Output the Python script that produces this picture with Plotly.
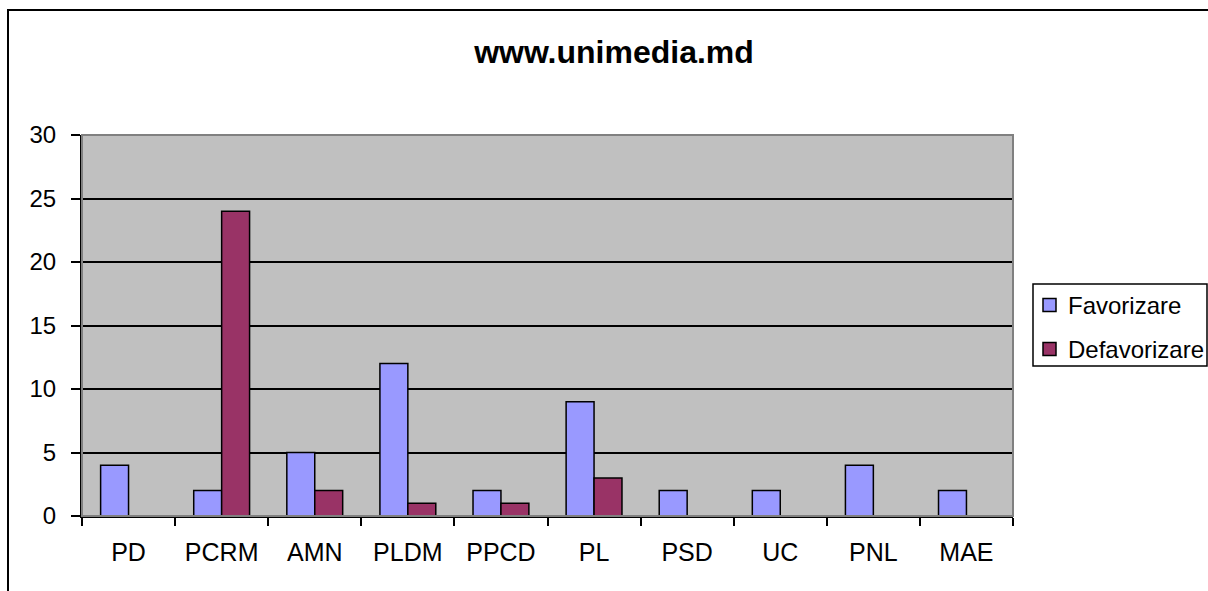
import plotly.graph_objects as go

PARTIES = ["PD", "PCRM", "AMN", "PLDM", "PPCD", "PL", "PSD", "UC", "PNL", "MAE"]
FAVORIZARE = [4, 2, 5, 12, 2, 9, 2, 2, 4, 2]
DEFAVORIZARE = [0, 24, 2, 1, 1, 3, 0, 0, 0, 0]
SERIES = ["Favorizare", "Defavorizare"]
COLORS = ["#9999FF", "#993366"]

W, H = 1208, 591
L, R, T, B = 82, 195, 135, 75
FONT = "Liberation Sans, Arial, sans-serif"
pw, ph = W - L - R, H - T - B


def px(x):
    return (x - L) / pw


def py(y):
    return (H - B - y) / ph


fig = go.Figure()
for name, vals, col in zip(SERIES, [FAVORIZARE, DEFAVORIZARE], COLORS):
    fig.add_bar(x=PARTIES, y=vals, name=name,
                marker=dict(color=col, line=dict(color="black", width=1.5)))

# outer chart frame (runs off the right/bottom edge like the screenshot)
fig.add_shape(type="rect", xref="paper", yref="paper",
              x0=px(8), x1=px(W + 20), y0=py(H + 20), y1=py(10),
              line=dict(color="black", width=2), layer="below")
# gray plot-area border
fig.add_shape(type="rect", xref="paper", yref="paper", x0=0, x1=1, y0=0, y1=1,
              line=dict(color="#808080", width=2), layer="above")

# legend box, drawn by hand to get the Excel spacing
fig.add_shape(type="rect", xref="paper", yref="paper",
              x0=px(1033), x1=px(1207), y0=py(366), y1=py(284),
              line=dict(color="black", width=1.5), fillcolor="white")
for i, (name, col) in enumerate(zip(SERIES, COLORS)):
    cy = 305 + i * 44
    fig.add_shape(type="rect", xref="paper", yref="paper",
                  x0=px(1043), x1=px(1056), y0=py(cy + 6.5), y1=py(cy - 6.5),
                  line=dict(color="black", width=1.5), fillcolor=col)
    fig.add_annotation(text=name, xref="paper", yref="paper",
                       x=px(1066), y=py(cy), xanchor="left", yanchor="middle",
                       showarrow=False, font=dict(size=24, family=FONT))

fig.update_layout(
    width=W, height=H,
    margin=dict(l=L, r=R, t=T, b=B),
    paper_bgcolor="white",
    plot_bgcolor="#C0C0C0",
    font=dict(family=FONT, size=24, color="black"),
    title=dict(text="<b>www.unimedia.md</b>", x=614 / W, xanchor="center",
               y=1 - 52 / H, yanchor="middle", font=dict(size=32, family=FONT)),
    barmode="group", bargap=0.4, bargroupgap=0,
    showlegend=False,
)
fig.update_xaxes(showline=True, linecolor="black", linewidth=2,
                 ticks="outside", tickson="boundaries", ticklen=8,
                 tickcolor="black", tickwidth=1.5, ticklabelstandoff=13,
                 tickfont=dict(size=25), showgrid=False)
fig.update_yaxes(range=[0, 30], dtick=5, showline=True, linecolor="black",
                 linewidth=2, ticks="outside", ticklen=9, tickcolor="black",
                 tickwidth=1.5, gridcolor="black", gridwidth=1.5,
                 zeroline=False, ticklabelstandoff=10)

fig.write_html("out.html", config={"displayModeBar": False},
               post_script="document.body.style.margin='0';")
